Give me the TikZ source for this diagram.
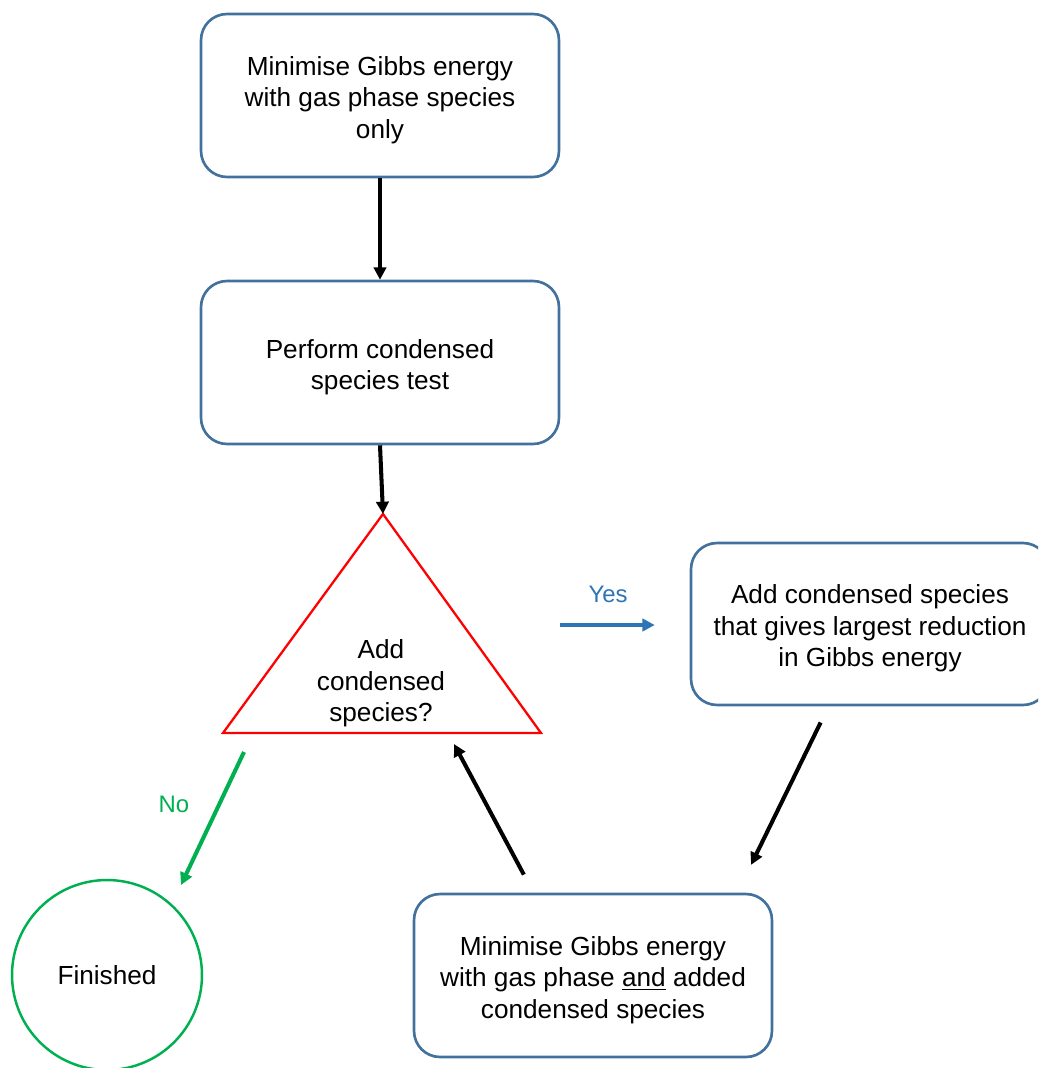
\documentclass[tikz,border=0pt]{standalone}
\usepackage{fontspec}
\setmainfont{Liberation Sans}
\usetikzlibrary{arrows.meta, calc}
\definecolor{boxblue}{RGB}{65,113,156}
\definecolor{yesblue}{RGB}{46,117,182}
\definecolor{nogreen}{RGB}{0,176,80}
\newcommand{\boxfont}{\fontsize{14.9}{17.9}\selectfont}
\newcommand{\labelfont}{\fontsize{13.6}{16}\selectfont}
\newcommand{\topgap}{\rule{0pt}{16pt}}

\begin{document}
\begin{tikzpicture}[
    x=0.02cm, y=-0.02cm,
    box/.style={
        rectangle,
        draw=boxblue,
        line width=1.5pt,
        rounded corners=0.52cm,
        align=center,
        minimum width=7.16cm,
        minimum height=3.26cm,
        inner sep=0pt,
        font=\boxfont
    },
    endbox/.style={
        circle,
        draw=nogreen,
        line width=1.4pt,
        minimum size=3.8cm,
        inner sep=0pt,
        font=\boxfont
    },
    decision/.style={draw=red, line width=1.3pt, line join=miter},
    flow/.style={line width=2.3pt, -{Triangle[length=7pt,width=7pt]}},
    yesflow/.style={flow, draw=yesblue, fill=yesblue},
    noflow/.style={flow, draw=nogreen, fill=nogreen},
    lbl/.style={font=\labelfont, inner sep=0pt}
]
    \useasboundingbox (0,0) rectangle (1038,1068);
    \clip (0,0) rectangle (1038,1068);

    % --- 1) Gas phase minimisation ---
    \node[box] (gas) at (380,95.5) {\topgap Minimise Gibbs energy\\with gas phase species\\only};

    % --- 2) Condensed species test ---
    \node[box] (test) at (380,362.5) {\topgap Perform condensed\\species test};

    % --- 3) Decision triangle ---
    \coordinate (apex)  at (383,514);
    \coordinate (baseL) at (223,733);
    \coordinate (baseR) at (541,733);
    \draw[decision] (apex) -- (baseL) -- (baseR) -- cycle;
    \node[align=center, font=\boxfont, inner sep=0pt] (ask) at (381,683.5) {Add\\condensed\\species?};

    % --- 4) Add species / loop / finish ---
    \node[box, minimum height=3.24cm] (add) at (870,624) {\topgap Add condensed species\\that gives largest reduction\\in Gibbs energy};
    \node[box] (loop) at (593,975.5) {\topgap Minimise Gibbs energy\\with gas phase \underline{and} added\\condensed species};
    \node[endbox] (done) at (107,975) {Finished};

    % --- Connectors ---
    \draw[flow] (gas) -- (test);
    \draw[flow] (test.south) -- (apex);

    \coordinate (yesfrom) at (560,625);
    \draw[yesflow, shorten >=0.7cm] (yesfrom) -- (add.west |- yesfrom);
    \node[lbl, text=yesblue] (yes) at (608,594) {Yes};

    \draw[flow, shorten <=0.36cm, shorten >=0.62cm]
        ([xshift=-0.83cm]add.south) -- ([xshift=2.89cm]loop.north);

    \coordinate (back) at (454,744);
    \draw[flow, shorten <=0.41cm] ([xshift=-1.19cm]loop.north) -- (back);

    \coordinate (nofrom) at (244,752);
    \coordinate (noto)   at (181,885);
    \draw[noflow] (nofrom) -- (noto);
    \node[lbl, text=nogreen] (no) at (174,804) {No};

\end{tikzpicture}
\end{document}
